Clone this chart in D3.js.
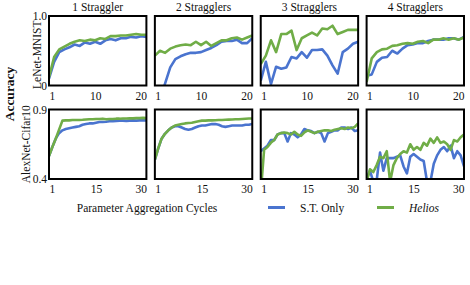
<!DOCTYPE html>
<html>
<head>
<meta charset="utf-8">
<script src="https://cdn.jsdelivr.net/npm/d3@7"></script>
<style>
  body { margin: 0; background: #fff; }
  text { font-family: "Liberation Serif", "Times New Roman", serif; fill: #111; }
</style>
</head>
<body>
<svg id="chart" width="470" height="285"></svg>
<script>
// panel titles and row names
var stragglers = ['1 Straggler', '2 Stragglers', '3 Stragglers', '4 Stragglers'];
var models = ['LeNet-MNIST', 'AlexNet-Cifar10'];

// aggregation cycles per row
var cyclesTop = d3.range(1, 21);
var cyclesBottom = d3.range(1, 31);
var ticksTop = [1, 10, 20];
var ticksBottom = [1, 15, 30];
var yDomainTop = [0, 1];
var yDomainBottom = [0.4, 0.9];
var yTicksTop = ['1.0', '0'];
var yTicksBottom = ['0.9', '0.4'];

// LeNet-MNIST, S.T. Only / Helios
var lenetST1 = [0.10, 0.34, 0.48, 0.52, 0.55, 0.59, 0.57, 0.62, 0.60, 0.63, 0.60, 0.65, 0.67, 0.65, 0.68, 0.68, 0.70, 0.69, 0.71, 0.70];
var lenetHe1 = [0.12, 0.41, 0.52, 0.56, 0.60, 0.63, 0.65, 0.64, 0.66, 0.65, 0.68, 0.67, 0.71, 0.71, 0.72, 0.72, 0.73, 0.74, 0.73, 0.73];
var lenetST2 = [-0.40, -0.20, 0.03, 0.26, 0.38, 0.42, 0.45, 0.47, 0.47, 0.48, 0.51, 0.54, 0.58, 0.63, 0.64, 0.64, 0.66, 0.61, 0.61, 0.68];
var lenetHe2 = [0.43, 0.50, 0.47, 0.53, 0.56, 0.58, 0.59, 0.58, 0.63, 0.58, 0.63, 0.57, 0.61, 0.65, 0.65, 0.68, 0.69, 0.66, 0.69, 0.72];
var lenetST3 = [0.07, 0.34, 0.02, 0.27, 0.24, 0.26, 0.41, 0.39, 0.48, 0.40, 0.51, 0.51, 0.52, 0.43, 0.29, 0.17, 0.48, 0.53, 0.60, 0.63];
var lenetHe3 = [0.31, 0.43, 0.65, 0.48, 0.74, 0.74, 0.79, 0.51, 0.68, 0.72, 0.76, 0.72, 0.82, 0.81, 0.86, 0.74, 0.77, 0.80, 0.80, 0.80];
var lenetST4 = [0.14, 0.16, 0.34, 0.40, 0.41, 0.50, 0.46, 0.53, 0.58, 0.59, 0.61, 0.61, 0.64, 0.66, 0.66, 0.66, 0.68, 0.68, 0.66, 0.70];
var lenetHe4 = [0.05, 0.39, 0.48, 0.52, 0.53, 0.57, 0.58, 0.60, 0.61, 0.60, 0.63, 0.64, 0.61, 0.66, 0.66, 0.68, 0.66, 0.68, 0.66, 0.69];

// AlexNet-Cifar10, S.T. Only / Helios
var alexST1 = [0.565, 0.63, 0.69, 0.73, 0.75, 0.76, 0.765, 0.77, 0.775, 0.78, 0.79, 0.795, 0.80, 0.80, 0.805, 0.81, 0.81, 0.812, 0.815, 0.815, 0.818, 0.82, 0.82, 0.818, 0.82, 0.822, 0.82, 0.822, 0.822, 0.822];
var alexHe1 = [0.565, 0.63, 0.69, 0.755, 0.82, 0.822, 0.822, 0.825, 0.825, 0.825, 0.826, 0.828, 0.83, 0.83, 0.832, 0.832, 0.834, 0.83, 0.832, 0.832, 0.834, 0.834, 0.835, 0.835, 0.836, 0.836, 0.838, 0.838, 0.84, 0.838];
var alexST2 = [0.54, 0.62, 0.69, 0.725, 0.75, 0.77, 0.78, 0.78, 0.77, 0.76, 0.755, 0.76, 0.77, 0.78, 0.785, 0.785, 0.79, 0.795, 0.795, 0.79, 0.78, 0.775, 0.78, 0.785, 0.785, 0.785, 0.785, 0.79, 0.79, 0.795];
var alexHe2 = [0.54, 0.62, 0.69, 0.725, 0.75, 0.77, 0.785, 0.79, 0.795, 0.80, 0.803, 0.805, 0.81, 0.815, 0.82, 0.82, 0.822, 0.822, 0.823, 0.824, 0.825, 0.826, 0.827, 0.828, 0.83, 0.83, 0.832, 0.834, 0.835, 0.835];
var alexST3 = [0.60, 0.62, 0.64, 0.68, 0.68, 0.72, 0.73, 0.73, 0.67, 0.73, 0.72, 0.70, 0.72, 0.76, 0.75, 0.745, 0.73, 0.74, 0.73, 0.67, 0.73, 0.74, 0.75, 0.75, 0.77, 0.77, 0.76, 0.77, 0.745, 0.75];
var alexHe3 = [0.30, 0.61, 0.63, 0.66, 0.68, 0.72, 0.73, 0.735, 0.73, 0.72, 0.74, 0.72, 0.71, 0.735, 0.75, 0.74, 0.73, 0.74, 0.745, 0.75, 0.75, 0.745, 0.755, 0.76, 0.765, 0.76, 0.77, 0.765, 0.775, 0.80];
var alexST4 = [0.40, 0.46, 0.38, 0.39, 0.59, 0.46, 0.55, 0.55, 0.55, 0.56, 0.57, 0.49, 0.44, 0.56, 0.58, 0.56, 0.54, 0.53, 0.38, 0.38, 0.51, 0.57, 0.61, 0.63, 0.60, 0.64, 0.55, 0.60, 0.57, 0.49];
var alexHe4 = [0.38, 0.47, 0.45, 0.50, 0.56, 0.55, 0.60, 0.38, 0.50, 0.55, 0.58, 0.60, 0.59, 0.65, 0.61, 0.63, 0.61, 0.66, 0.64, 0.69, 0.66, 0.70, 0.66, 0.67, 0.65, 0.61, 0.68, 0.67, 0.70, 0.72];

var seriesNames = ['S.T. Only', 'Helios'];
var colors = { 'S.T. Only': '#4a74cf', 'Helios': '#70ad47' };

var rows = [
  { model: models[0], cycles: cyclesTop, ticks: ticksTop, yDomain: yDomainTop, yTicks: yTicksTop,
    st: [lenetST1, lenetST2, lenetST3, lenetST4], he: [lenetHe1, lenetHe2, lenetHe3, lenetHe4] },
  { model: models[1], cycles: cyclesBottom, ticks: ticksBottom, yDomain: yDomainBottom, yTicks: yTicksBottom,
    st: [alexST1, alexST2, alexST3, alexST4], he: [alexHe1, alexHe2, alexHe3, alexHe4] }
];

var svg = d3.select('#chart');

var col = d3.scaleBand().domain(stragglers).range([49, 464]).paddingInner(0.08);
var rowTop = [16, 109.5];
var panelH = 69.5;
var pw = col.bandwidth();

rows.forEach(function(row, ri) {
  var top = rowTop[ri];
  var y = d3.scaleLinear().domain(row.yDomain).range([top + panelH, top]);

  stragglers.forEach(function(name, ci) {
    var left = col(name);
    var x = d3.scaleLinear().domain(d3.extent(row.cycles)).range([left, left + pw]);
    var clipId = 'clip-' + ri + '-' + ci;

    svg.append('clipPath').attr('id', clipId)
      .append('rect')
      .attr('x', left).attr('y', top)
      .attr('width', pw).attr('height', panelH);

    var line = d3.line()
      .x(function(d, i) { return x(row.cycles[i]); })
      .y(function(d) { return y(d); });

    var g = svg.append('g').attr('clip-path', 'url(#' + clipId + ')');
    g.append('path')
      .attr('d', line(row.st[ci]))
      .attr('fill', 'none')
      .attr('stroke', colors['S.T. Only'])
      .attr('stroke-width', 2.6)
      .attr('stroke-linejoin', 'round');
    g.append('path')
      .attr('d', line(row.he[ci]))
      .attr('fill', 'none')
      .attr('stroke', colors['Helios'])
      .attr('stroke-width', 2.6)
      .attr('stroke-linejoin', 'round');

    svg.append('rect')
      .attr('x', left).attr('y', top)
      .attr('width', pw).attr('height', panelH)
      .attr('fill', 'none')
      .attr('stroke', '#000')
      .attr('stroke-width', 2);

    /* x tick labels */
    var xAxis = d3.axisBottom(x).tickValues(row.ticks).tickSize(0).tickPadding(0);
    var ga = svg.append('g')
      .attr('transform', 'translate(0,' + (top + panelH + 14) + ')')
      .call(xAxis);
    ga.select('.domain').remove();
    ga.selectAll('text')
      .attr('y', 0).attr('dy', 0)
      .style('font-size', '11.5px')
      .style('font-family', '"Liberation Serif", serif')
      .attr('fill', '#111')
      .attr('text-anchor', function(d, i) {
        return i === 0 ? 'start' : (i === row.ticks.length - 1 ? 'end' : 'middle');
      });

    if(ri === 0) {
      svg.append('text')
        .attr('x', left + pw / 2).attr('y', 11)
        .attr('text-anchor', 'middle')
        .style('font-size', '11.5px')
        .text(name);
    }

    /* y labels only on the first column */
    if(ci === 0) {
      svg.append('text')
        .attr('x', left - 2).attr('y', top + 4)
        .attr('text-anchor', 'end')
        .style('font-size', '11.5px')
        .text(row.yTicks[0]);
      svg.append('text')
        .attr('x', left - 2).attr('y', top + panelH + 4)
        .attr('text-anchor', 'end')
        .style('font-size', '11.5px')
        .text(row.yTicks[1]);
    }
  });

  var labelX = ri === 0 ? 41 : 30;
  svg.append('text')
    .attr('transform', 'translate(' + labelX + ',' + (top + panelH / 2 + (ri === 0 ? 4 : 0)) + ') rotate(-90)')
    .attr('text-anchor', 'middle')
    .style('font-size', '11.5px')
    .text(row.model);
});

svg.append('text')
  .attr('transform', 'translate(14,94) rotate(-90)')
  .attr('text-anchor', 'middle')
  .style('font-size', '13.5px')
  .style('font-weight', 'bold')
  .text('Accuracy');

svg.append('text')
  .attr('x', 147).attr('y', 212)
  .attr('text-anchor', 'middle')
  .style('font-size', '11.5px')
  .text('Parameter Aggregation Cycles');

/* legend */
var legendX = [268, 377];
seriesNames.forEach(function(s, i) {
  svg.append('line')
    .attr('x1', legendX[i]).attr('x2', legendX[i] + 17)
    .attr('y1', 207.5).attr('y2', 207.5)
    .attr('stroke', colors[s])
    .attr('stroke-width', 3);
  svg.append('text')
    .attr('x', legendX[i] + 32).attr('y', 212)
    .style('font-size', '11.5px')
    .style('font-style', s === 'Helios' ? 'italic' : 'normal')
    .text(s);
});
</script>
</body>
</html>
